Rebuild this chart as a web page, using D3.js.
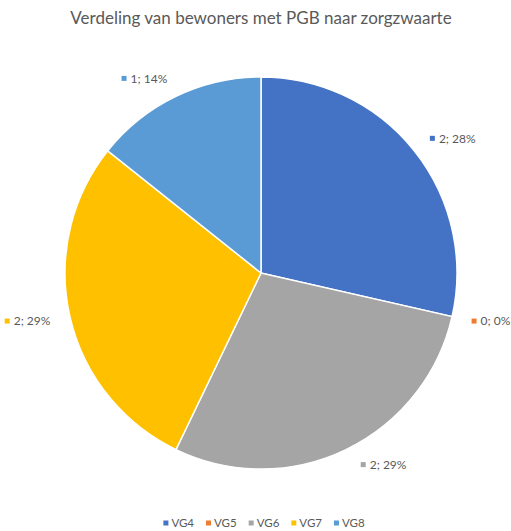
<!DOCTYPE html>
<html>
<head>
<meta charset="utf-8">
<script src="https://cdn.jsdelivr.net/npm/d3@7"></script>
<style>
  html, body { margin: 0; padding: 0; background: #ffffff; }
  svg { display: block; }
</style>
</head>
<body>
<svg id="chart" width="511" height="531"></svg>
<script>
// Residents with a personal budget (PGB), by care intensity
const categories = ["VG4", "VG5", "VG6", "VG7", "VG8"];
const counts = [2, 0, 2, 2, 1];
const percentLabels = ["28%", "0%", "29%", "29%", "14%"];
const colors = ["#4472C4", "#ED7D31", "#A5A5A5", "#FFC000", "#5B9BD5"];
const title = "Verdeling van bewoners met PGB naar zorgzwaarte";

const width = 511, height = 531;
const cx = 261, cy = 273, radius = 196;
const font = "Lato, 'Open Sans', sans-serif";
const textColor = "#595959";

const svg = d3.select("#chart");

svg.append("text")
  .attr("x", 261).attr("y", 24)
  .attr("text-anchor", "middle")
  .attr("font-family", font)
  .attr("font-size", 17)
  .attr("fill", textColor)
  .text(title);

const data = categories.map((c, i) => ({ cat: c, value: counts[i], pct: percentLabels[i], color: colors[i] }));

const pie = d3.pie().value(d => d.value).sort(null);
const arcs = pie(data);
const arc = d3.arc().innerRadius(0).outerRadius(radius);

const g = svg.append("g").attr("transform", `translate(${cx},${cy})`);

g.selectAll("path.slice")
  .data(arcs.filter(a => a.data.value > 0))
  .join("path")
  .attr("class", "slice")
  .attr("d", arc)
  .attr("fill", d => d.data.color)
  .attr("stroke", "#ffffff")
  .attr("stroke-width", 1.5);

// Outside-end data labels
const labelR = 216;
const labelNudge = { VG6: [6, -3] };
arcs.forEach(a => {
  const mid = (a.startAngle + a.endAngle) / 2;
  const nudge = labelNudge[a.data.cat] || [0, 0];
  const x = Math.sin(mid) * labelR + nudge[0];
  const y = -Math.cos(mid) * labelR + nudge[1];
  const rightSide = Math.sin(mid) >= 0;
  const text = `${a.data.value}; ${a.data.pct}`;
  const lg = g.append("g").attr("transform", `translate(${x},${y})`);
  const t = lg.append("text")
    .attr("font-family", font)
    .attr("font-size", 12)
    .attr("fill", textColor)
    .attr("dy", "0.35em")
    .text(text);
  const w = t.node().getComputedTextLength();
  const markerGap = 9;
  let x0 = rightSide ? 0 : -(w + markerGap);
  lg.append("rect")
    .attr("x", x0).attr("y", -2.5)
    .attr("width", 5).attr("height", 5)
    .attr("fill", a.data.color);
  t.attr("x", x0 + markerGap);
});

// Legend
const legend = svg.append("g");
let lx = 0;
const legendGap = 12;
data.forEach(d => {
  const item = legend.append("g");
  item.append("rect").attr("x", 0).attr("y", -2.5).attr("width", 5).attr("height", 5).attr("fill", d.color);
  const t = item.append("text")
    .attr("x", 8).attr("dy", "0.35em")
    .attr("font-family", font).attr("font-size", 11.5)
    .attr("fill", textColor)
    .text(d.cat);
  const w = 8 + t.node().getComputedTextLength();
  item.attr("transform", `translate(${lx},0)`);
  lx += w + legendGap;
});
const legendWidth = lx - legendGap;
legend.attr("transform", `translate(${264 - legendWidth / 2},523)`);
</script>
</body>
</html>
